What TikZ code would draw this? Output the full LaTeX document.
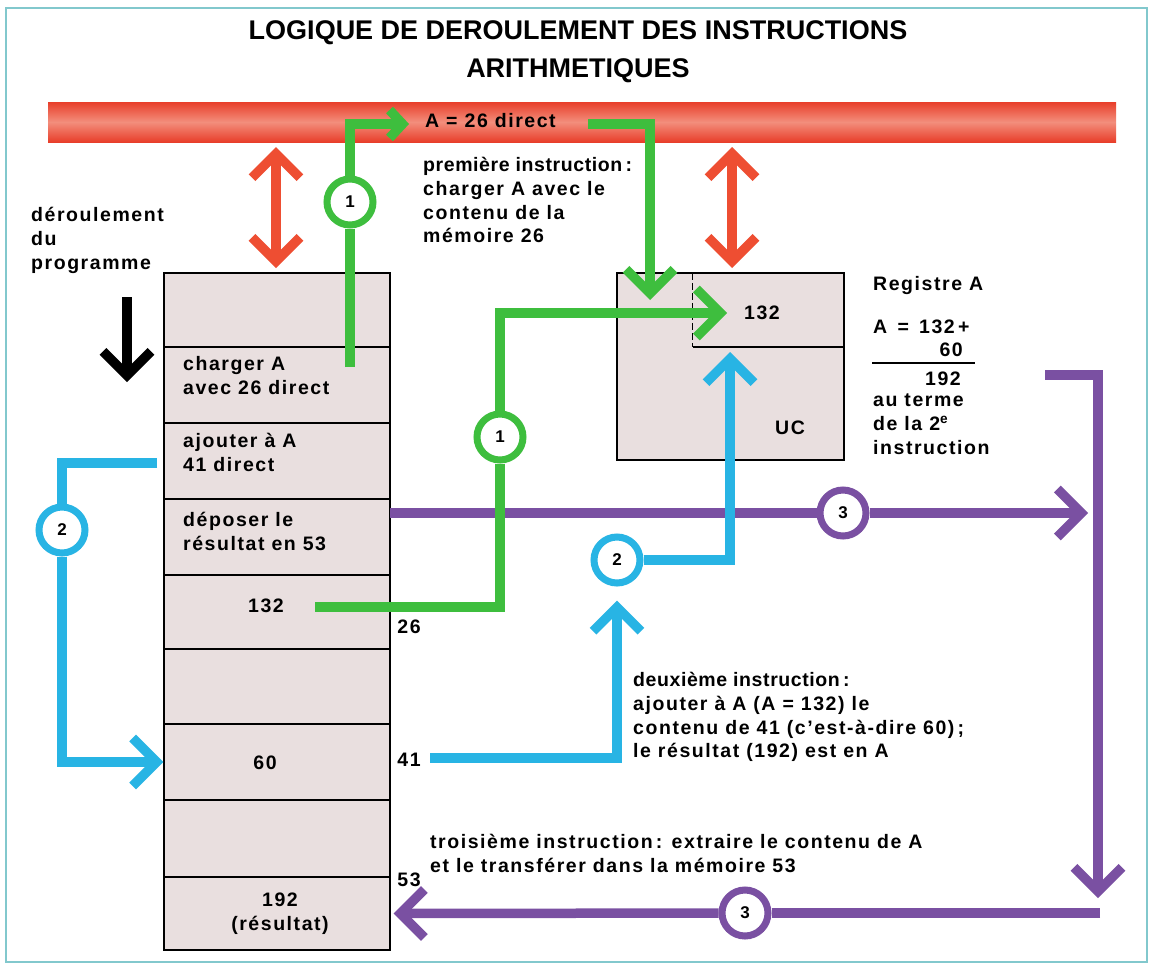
\documentclass[tikz,border=0pt]{standalone}
\usepackage{fontspec}
\usetikzlibrary{arrows.meta}
\newfontfamily\bodyf{Liberation Sans}[LetterSpace=8]
\newfontfamily\tightf{Liberation Sans}[LetterSpace=3]
\newfontfamily\titlef{Liberation Sans}

\definecolor{busred}{RGB}{232,62,42}
\definecolor{bussalmon}{RGB}{243,142,124}
\definecolor{arrred}{RGB}{238,78,50}
\definecolor{grn}{RGB}{62,190,62}
\definecolor{blu}{RGB}{40,180,228}
\definecolor{pur}{RGB}{122,80,162}
\definecolor{cellfill}{RGB}{233,223,223}
\definecolor{framecol}{RGB}{130,200,205}

\tikzset{
  chev/.tip={Straight Barb[length=24pt,width=48pt]},
  smallchev/.tip={Straight Barb[length=13pt,width=28pt]},
}

\begin{document}
\begin{tikzpicture}[x=1pt,y=-1pt,
  wire/.style={line width=9.5pt},
  gw/.style={wire,draw=grn},
  bw/.style={wire,draw=blu},
  pw/.style={wire,draw=pur},
  rw/.style={wire,draw=arrred},
  kw/.style={wire,draw=black},
  cell/.style={draw=black,line width=1.3pt,fill=cellfill,minimum width=226pt,inner sep=0pt},
  num/.style={circle,line width=7pt,fill=white,minimum size=46pt,inner sep=0pt,
    font=\bodyf\bfseries\fontsize{17}{17}\selectfont},
  lbl/.style={inner sep=0pt,font=\bodyf\bfseries\fontsize{19.5}{23.6}\selectfont},
  mtxt/.style={lbl,align=left,anchor=north west,yshift=16.8pt},
  ttl/.style={inner sep=0pt,anchor=base,font=\titlef\bfseries\fontsize{27}{30}\selectfont},
]
\useasboundingbox (0,0) rectangle (1152,967);
\fill[white] (0,0) rectangle (1152,967);
\draw[framecol,line width=1.5pt] (6,8) rectangle (1147,962);

% title
\node[ttl] (title1) at (578,39) {LOGIQUE DE DEROULEMENT DES INSTRUCTIONS};
\node[ttl] (title2) at (578,77) {ARITHMETIQUES};

% bus
\node[minimum width=1068pt,minimum height=40pt,inner sep=0pt,
      top color=busred,bottom color=busred,middle color=bussalmon] (bus) at (582,122) {};
\node[lbl,anchor=base west] (busval) at (425,127) {A = 26 direct};

% memory column
\foreach \i/\c/\h in {1/310/74, 2/385/76, 3/461/76, 4/537/76, 5/612/74,
                      6/686.5/75, 7/762/76, 8/838.5/77, 9/913.5/73}
  \node[cell,minimum height=\h pt] (m\i) at (277,\c) {};

\node[mtxt] (t2) at (183,371) {\strut charger A\\avec 26 direct};
\node[mtxt] (t3) at (183,448) {\strut ajouter à A\\41 direct};
\node[mtxt] (t4) at (183,527) {\strut déposer le\\résultat en 53};
\node[lbl,anchor=base] (t5) at (266,612) {132};
\node[lbl,anchor=base] (t7) at (265,769) {60};
\node[lbl,align=center,anchor=north,yshift=16.8pt] (t9) at (280,907) {\strut 192\\(résultat)};

\node[lbl,anchor=base] (a26) at (409,633) {26};
\node[lbl,anchor=base] (a41) at (409,766) {41};
\node[lbl,anchor=base] (a53) at (409,886) {53};

% control unit with register A
\node[cell,minimum width=227pt,minimum height=187pt] (uc) at (730.5,366.5) {};
\node[inner sep=0pt,minimum width=151pt,minimum height=74pt] (reg) at (768.5,310) {};
\draw[line width=1.3pt,dash pattern=on 7pt off 3pt] (reg.north west) -- (reg.south west);
\draw[line width=1.5pt] (reg.south west) -- (reg.south east);
\node[lbl,anchor=base] (regval) at (762,319) {132};
\node[lbl,anchor=base] (uclbl) at (790,434) {UC};

% side texts
\node[mtxt] (deroul) at (31,222) {\strut déroulement\\du\\programme};
\node[mtxt] (prem) at (423,172) {\strut{\tightf\bfseries première instruction\,:}\\charger A avec le\\contenu de la\\mémoire 26};
\node[lbl,anchor=base west] (regA) at (873,290) {Registre A};
\node[lbl,anchor=base west] (sum1) at (873,333) {A \,= \,132\,+};
\node[lbl,anchor=base east] (sum2) at (963,356) {60};
\draw[line width=1.5pt] (872,363) -- (975,363);
\node[lbl,anchor=base west] (sum3) at (925,385) {192};
\node[mtxt] (terme) at (873,407) {\strut au terme\\de la 2\textsuperscript{e}\\instruction};
\node[mtxt] (deux) at (633,687) {\strut{\tightf\bfseries deuxième instruction\,:}\\ajouter à A (A = 132) le\\contenu de 41 (c’est-à-dire 60)\,;\\le résultat (192) est en A};
\node[mtxt] (trois) at (430,849) {\strut troisième instruction\,: extraire le contenu de A\\et le transférer dans la mémoire 53};

% step markers
\node[num,draw=grn] (c1a) at (350,202) {1};
\node[num,draw=grn] (c1b) at (500,437) {1};
\node[num,draw=blu] (c2a) at (62,530) {2};
\node[num,draw=blu] (c2b) at (617,560) {2};
\node[num,draw=pur] (c3a) at (843,513) {3};
\node[num,draw=pur] (c3b) at (745,913) {3};

% free ends of the connectors
\coordinate (g1s) at (350,367);
\coordinate (g1e) at (409,124);
\coordinate (g2s) at (588,124);
\coordinate (g2e) at (650,300);
\coordinate (g3s) at (315,607);
\coordinate (g3e) at (727,313);
\coordinate (b1s) at (157,463);
\coordinate (b2s) at (430,758);
\coordinate (b3e) at (730,352);
\coordinate (p1s) at (390,513);
\coordinate (p1e) at (1088,513);
\coordinate (p2s) at (1045,375);
\coordinate (p2e) at (1098,898);
\coordinate (p3s) at (1100,913);
\coordinate (r1t) at (276,147);
\coordinate (r1b) at (276,268);
\coordinate (r2t) at (732,147);
\coordinate (r2b) at (732,268);
\coordinate (k1) at (127,297);
\coordinate (k2) at (127,382);

% third instruction (purple)
\draw[pw] (p1s) -- (c3a);
\draw[pw,-chev] (c3a) -- (p1e);
\draw[pw,-chev] (p2s) -| (p2e);
\draw[pw] (p3s) -- (c3b);
\draw[pw,-chev,shorten >=3pt] (c3b) -- (m9.east);

% second instruction (blue)
\draw[bw] (b1s) -| (c2a);
\draw[bw,-chev] (c2a) |- (m7.west);
\draw[bw,-chev,shorten >=14pt] (b2s) -| (c2b);
\draw[bw,-chev] (c2b) -| (b3e);

% first instruction (green)
\draw[gw] (g1s) -- (c1a);
\draw[gw,-smallchev] (c1a) |- (g1e);
\draw[gw,-chev] (g2s) -| (g2e);
\draw[gw] (g3s) -| (c1b);
\draw[gw,-chev] (c1b) |- (g3e);

% bus transfers and program flow
\draw[rw,chev-chev] (r1t) -- (r1b);
\draw[rw,chev-chev] (r2t) -- (r2b);
\draw[kw,-chev] (k1) -- (k2);
\end{tikzpicture}
\end{document}
